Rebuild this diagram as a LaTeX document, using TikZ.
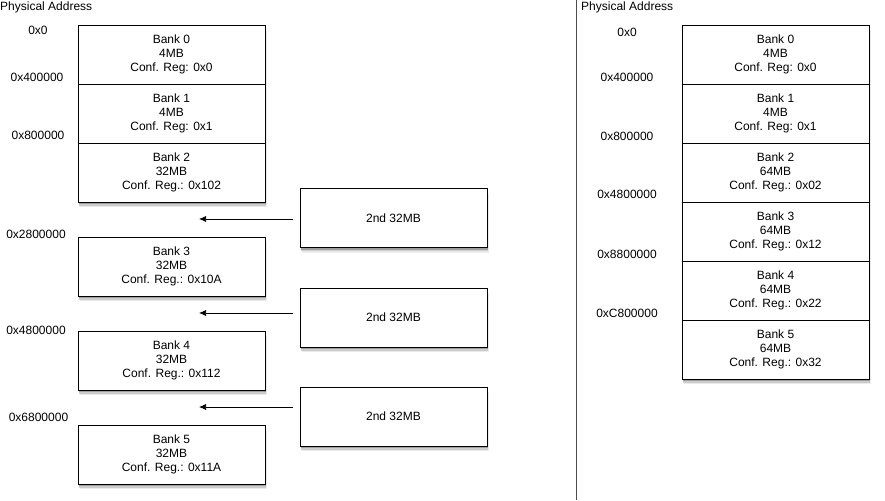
\documentclass[tikz,border=0pt]{standalone}
\usepackage{fontspec}
\setmainfont{Liberation Sans}
\usetikzlibrary{arrows.meta}
\begin{document}
\begin{tikzpicture}[x=1pt,y=-1pt,
  every node/.style={font=\fontsize{12}{13.8}\selectfont},
  membox/.style={draw=black, line width=0.9pt, fill=white, minimum width=187pt, minimum height=59pt,
    inner sep=0pt, align=center},
  addr/.style={inner sep=0pt},
  conn/.style={line width=0.7pt, -{Latex[length=7pt,width=6pt]}}]
\useasboundingbox (0,0) rectangle (885,500);
% soft shadows (drawn first, behind the boxes)
\newcommand{\softshadow}[4]{%
  \fill[black!8]  (#1+1.5,#2+5)   rectangle (#3+1.5,#4+5);
  \fill[black!20] (#1+1,#2+3.5)   rectangle (#3+1,#4+3.5);
  \fill[black!38] (#1+0.6,#2+2)   rectangle (#3+0.6,#4+2);}
\softshadow{78}{25}{265}{202}
\softshadow{78}{237}{265}{296}
\softshadow{78}{331}{265}{390}
\softshadow{78}{425}{265}{484}
\softshadow{300}{188.5}{487}{247.5}
\softshadow{300}{288}{487}{347}
\softshadow{300}{387}{487}{446}
\softshadow{682}{25}{869}{379}
% divider
\draw[line width=0.8pt, black!70] (576,0) -- (576,500);
% ---------- left ----------
\node[addr, anchor=west] (ptl) at (0,7) {Physical Address};
\node[addr] (la0) at (38,30) {0x0};
\node[addr] (la1) at (37,77) {0x400000};
\node[addr] (la2) at (38,135) {0x800000};
\node[addr] (la3) at (36,234) {0x2800000};
\node[addr] (la4) at (36,330) {0x4800000};
\node[addr] (la5) at (38.5,417) {0x6800000};

\node[membox] (lb0) at (171.5,54.5) {Bank 0\\4MB\\Conf. Reg: 0x0};
\node[membox] (lb1) at (171.5,113.5) {Bank 1\\4MB\\Conf. Reg: 0x1};
\node[membox] (lb2) at (171.5,172.5) {Bank 2\\32MB\\Conf. Reg.: 0x102};
\node[membox] (lb3) at (171.5,266.5) {Bank 3\\32MB\\Conf. Reg.: 0x10A};
\node[membox] (lb4) at (171.5,360.5) {Bank 4\\32MB\\Conf. Reg.: 0x112};
\node[membox] (lb5) at (171.5,454.5) {Bank 5\\32MB\\Conf. Reg.: 0x11A};

\node[membox] (s1) at (393.5,218) {2nd 32MB};
\node[membox] (s2) at (393.5,317.5) {2nd 32MB};
\node[membox] (s3) at (393.5,416.5) {2nd 32MB};

\coordinate (a1s) at (293,219); \coordinate (a1e) at (199,219);
\coordinate (a2s) at (293,313); \coordinate (a2e) at (199,313);
\coordinate (a3s) at (293,407); \coordinate (a3e) at (199,407);
\draw[conn] (a1s) -- (a1e);
\draw[conn] (a2s) -- (a2e);
\draw[conn] (a3s) -- (a3e);

% ---------- right ----------
\node[addr, anchor=west] (ptr) at (581,7) {Physical Address};
\node[addr] (ra0) at (627,32) {0x0};
\node[addr] (ra1) at (627,77) {0x400000};
\node[addr] (ra2) at (627,136) {0x800000};
\node[addr] (ra3) at (627,194) {0x4800000};
\node[addr] (ra4) at (627,254) {0x8800000};
\node[addr] (ra5) at (627,313) {0xC800000};

\node[membox] (rb0) at (775.5,54.5) {Bank 0\\4MB\\Conf. Reg: 0x0};
\node[membox] (rb1) at (775.5,113.5) {Bank 1\\4MB\\Conf. Reg: 0x1};
\node[membox] (rb2) at (775.5,172.5) {Bank 2\\64MB\\Conf. Reg.: 0x02};
\node[membox] (rb3) at (775.5,231.5) {Bank 3\\64MB\\Conf. Reg.: 0x12};
\node[membox] (rb4) at (775.5,290.5) {Bank 4\\64MB\\Conf. Reg.: 0x22};
\node[membox] (rb5) at (775.5,349.5) {Bank 5\\64MB\\Conf. Reg.: 0x32};
\end{tikzpicture}
\end{document}
